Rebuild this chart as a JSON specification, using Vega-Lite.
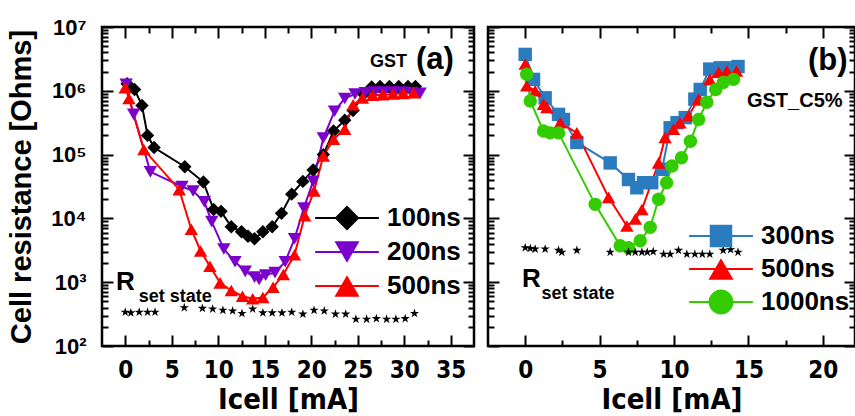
{
  "$schema": "https://vega.github.io/schema/vega-lite/v6.json",
  "background": "white",
  "padding": {"left": 6, "top": 14, "right": 0, "bottom": 0},
  "spacing": 8,
  "config": {
    "view": {"stroke": "black", "strokeWidth": 2.5, "fill": "white"},
    "font": "Liberation Sans",
    "axis": {"domain": false, "grid": false, "tickColor": "black", "tickWidth": 2, "labelColor": "black", "titleColor": "black", "labelFlush": false, "labelOverlap": false}
  },
  "datasets": {
    "a": [
      {"s": "100ns", "x": 0.2, "r": 1290000}, {"s": "100ns", "x": 1.0, "r": 1050000}, {"s": "100ns", "x": 1.8, "r": 589000}, {"s": "100ns", "x": 2.4, "r": 200000}, {"s": "100ns", "x": 3.1, "r": 129000}, {"s": "100ns", "x": 6.4, "r": 64600}, {"s": "100ns", "x": 8.4, "r": 37200}, {"s": "100ns", "x": 9.5, "r": 13800}, {"s": "100ns", "x": 10.3, "r": 12900}, {"s": "100ns", "x": 11.4, "r": 7410}, {"s": "100ns", "x": 12.5, "r": 6170}, {"s": "100ns", "x": 13.2, "r": 5250}, {"s": "100ns", "x": 13.9, "r": 4790}, {"s": "100ns", "x": 14.8, "r": 6170}, {"s": "100ns", "x": 15.8, "r": 7410}, {"s": "100ns", "x": 16.8, "r": 12000}, {"s": "100ns", "x": 17.9, "r": 24000}, {"s": "100ns", "x": 19.1, "r": 38000}, {"s": "100ns", "x": 20.2, "r": 57500}, {"s": "100ns", "x": 21.3, "r": 100000}, {"s": "100ns", "x": 22.4, "r": 234000}, {"s": "100ns", "x": 23.6, "r": 347000}, {"s": "100ns", "x": 24.5, "r": 490000}, {"s": "100ns", "x": 25.6, "r": 891000}, {"s": "100ns", "x": 26.5, "r": 1150000}, {"s": "100ns", "x": 27.4, "r": 1170000}, {"s": "100ns", "x": 28.4, "r": 1170000}, {"s": "100ns", "x": 29.4, "r": 1170000}, {"s": "100ns", "x": 30.4, "r": 1170000}, {"s": "100ns", "x": 31.2, "r": 1170000},
      {"s": "200ns", "x": 0.1, "r": 1260000}, {"s": "200ns", "x": 0.9, "r": 427000}, {"s": "200ns", "x": 2.7, "r": 53700}, {"s": "200ns", "x": 6.1, "r": 31600}, {"s": "200ns", "x": 7.3, "r": 26900}, {"s": "200ns", "x": 8.5, "r": 18200}, {"s": "200ns", "x": 9.3, "r": 8910}, {"s": "200ns", "x": 10.6, "r": 3310}, {"s": "200ns", "x": 11.8, "r": 2090}, {"s": "200ns", "x": 12.9, "r": 1480}, {"s": "200ns", "x": 13.9, "r": 1200}, {"s": "200ns", "x": 14.4, "r": 1100}, {"s": "200ns", "x": 15.1, "r": 1290}, {"s": "200ns", "x": 16.1, "r": 1410}, {"s": "200ns", "x": 17.2, "r": 2090}, {"s": "200ns", "x": 18.2, "r": 4790}, {"s": "200ns", "x": 19.2, "r": 14500}, {"s": "200ns", "x": 20.2, "r": 38000}, {"s": "200ns", "x": 21.3, "r": 182000}, {"s": "200ns", "x": 22.5, "r": 479000}, {"s": "200ns", "x": 23.6, "r": 759000}, {"s": "200ns", "x": 24.7, "r": 891000}, {"s": "200ns", "x": 25.8, "r": 933000}, {"s": "200ns", "x": 26.8, "r": 955000}, {"s": "200ns", "x": 27.8, "r": 955000}, {"s": "200ns", "x": 28.8, "r": 955000}, {"s": "200ns", "x": 29.8, "r": 955000}, {"s": "200ns", "x": 30.8, "r": 933000}, {"s": "200ns", "x": 31.7, "r": 912000},
      {"s": "500ns", "x": 0.0, "r": 1120000}, {"s": "500ns", "x": 0.4, "r": 759000}, {"s": "500ns", "x": 2.0, "r": 120000}, {"s": "500ns", "x": 5.8, "r": 28200}, {"s": "500ns", "x": 7.1, "r": 6760}, {"s": "500ns", "x": 8.1, "r": 3090}, {"s": "500ns", "x": 9.1, "r": 1780}, {"s": "500ns", "x": 10.2, "r": 977}, {"s": "500ns", "x": 11.4, "r": 741}, {"s": "500ns", "x": 12.6, "r": 603}, {"s": "500ns", "x": 13.7, "r": 550}, {"s": "500ns", "x": 14.8, "r": 575}, {"s": "500ns", "x": 15.9, "r": 832}, {"s": "500ns", "x": 17.0, "r": 1320}, {"s": "500ns", "x": 18.2, "r": 2690}, {"s": "500ns", "x": 19.3, "r": 11000}, {"s": "500ns", "x": 20.3, "r": 26900}, {"s": "500ns", "x": 21.3, "r": 95500}, {"s": "500ns", "x": 22.4, "r": 174000}, {"s": "500ns", "x": 23.6, "r": 251000}, {"s": "500ns", "x": 24.5, "r": 603000}, {"s": "500ns", "x": 25.5, "r": 776000}, {"s": "500ns", "x": 26.6, "r": 851000}, {"s": "500ns", "x": 27.7, "r": 871000}, {"s": "500ns", "x": 28.8, "r": 891000}, {"s": "500ns", "x": 29.9, "r": 912000}, {"s": "500ns", "x": 31.0, "r": 933000},
      {"s": "Rset", "x": 0.0, "r": 339}, {"s": "Rset", "x": 0.6, "r": 331}, {"s": "Rset", "x": 1.5, "r": 339}, {"s": "Rset", "x": 2.4, "r": 339}, {"s": "Rset", "x": 3.2, "r": 339}, {"s": "Rset", "x": 6.35, "r": 398}, {"s": "Rset", "x": 8.3, "r": 389}, {"s": "Rset", "x": 9.4, "r": 380}, {"s": "Rset", "x": 10.5, "r": 363}, {"s": "Rset", "x": 11.55, "r": 355}, {"s": "Rset", "x": 12.55, "r": 324}, {"s": "Rset", "x": 13.7, "r": 380}, {"s": "Rset", "x": 14.8, "r": 331}, {"s": "Rset", "x": 15.8, "r": 331}, {"s": "Rset", "x": 16.85, "r": 331}, {"s": "Rset", "x": 17.9, "r": 339}, {"s": "Rset", "x": 19.1, "r": 316}, {"s": "Rset", "x": 20.3, "r": 363}, {"s": "Rset", "x": 21.4, "r": 355}, {"s": "Rset", "x": 22.6, "r": 316}, {"s": "Rset", "x": 23.7, "r": 316}, {"s": "Rset", "x": 24.8, "r": 263}, {"s": "Rset", "x": 25.95, "r": 263}, {"s": "Rset", "x": 27.0, "r": 269}, {"s": "Rset", "x": 28.1, "r": 263}, {"s": "Rset", "x": 29.1, "r": 263}, {"s": "Rset", "x": 30.1, "r": 269}, {"s": "Rset", "x": 31.1, "r": 324}
    ],
    "b": [
      {"s": "300ns", "x": 0, "r": 3720000}, {"s": "300ns", "x": 0.56, "r": 1510000}, {"s": "300ns", "x": 1.34, "r": 776000}, {"s": "300ns", "x": 2.24, "r": 427000}, {"s": "300ns", "x": 2.57, "r": 355000}, {"s": "300ns", "x": 3.47, "r": 155000}, {"s": "300ns", "x": 5.71, "r": 74100}, {"s": "300ns", "x": 6.94, "r": 40700}, {"s": "300ns", "x": 7.5, "r": 30200}, {"s": "300ns", "x": 7.95, "r": 36300}, {"s": "300ns", "x": 8.5, "r": 36300}, {"s": "300ns", "x": 9.2, "r": 58900}, {"s": "300ns", "x": 9.74, "r": 263000}, {"s": "300ns", "x": 10.2, "r": 316000}, {"s": "300ns", "x": 10.75, "r": 380000}, {"s": "300ns", "x": 11.4, "r": 741000}, {"s": "300ns", "x": 11.76, "r": 1050000}, {"s": "300ns", "x": 12.4, "r": 2190000}, {"s": "300ns", "x": 13.1, "r": 2290000}, {"s": "300ns", "x": 13.8, "r": 2290000}, {"s": "300ns", "x": 14.3, "r": 2400000},
      {"s": "500ns", "x": 0, "r": 2630000}, {"s": "500ns", "x": 0.1, "r": 1200000}, {"s": "500ns", "x": 0.67, "r": 1000000}, {"s": "500ns", "x": 1.23, "r": 617000}, {"s": "500ns", "x": 1.46, "r": 550000}, {"s": "500ns", "x": 2.35, "r": 316000}, {"s": "500ns", "x": 3.47, "r": 219000}, {"s": "500ns", "x": 5.6, "r": 21400}, {"s": "500ns", "x": 6.83, "r": 7590}, {"s": "500ns", "x": 7.4, "r": 9770}, {"s": "500ns", "x": 7.84, "r": 13800}, {"s": "500ns", "x": 8.96, "r": 74100}, {"s": "500ns", "x": 9.4, "r": 186000}, {"s": "500ns", "x": 9.97, "r": 251000}, {"s": "500ns", "x": 10.4, "r": 316000}, {"s": "500ns", "x": 10.98, "r": 407000}, {"s": "500ns", "x": 11.65, "r": 741000}, {"s": "500ns", "x": 12.4, "r": 1510000}, {"s": "500ns", "x": 13.0, "r": 1950000}, {"s": "500ns", "x": 13.55, "r": 2040000}, {"s": "500ns", "x": 14.2, "r": 2040000},
      {"s": "1000ns", "x": 0.1, "r": 1820000}, {"s": "1000ns", "x": 0.34, "r": 692000}, {"s": "1000ns", "x": 1.23, "r": 234000}, {"s": "1000ns", "x": 1.68, "r": 219000}, {"s": "1000ns", "x": 2.24, "r": 219000}, {"s": "1000ns", "x": 4.7, "r": 16600}, {"s": "1000ns", "x": 6.38, "r": 3720}, {"s": "1000ns", "x": 6.94, "r": 3470}, {"s": "1000ns", "x": 7.73, "r": 4470}, {"s": "1000ns", "x": 8.4, "r": 7240}, {"s": "1000ns", "x": 8.96, "r": 20000}, {"s": "1000ns", "x": 9.5, "r": 36300}, {"s": "1000ns", "x": 9.86, "r": 66100}, {"s": "1000ns", "x": 10.5, "r": 89100}, {"s": "1000ns", "x": 11.1, "r": 162000}, {"s": "1000ns", "x": 11.65, "r": 355000}, {"s": "1000ns", "x": 12.2, "r": 661000}, {"s": "1000ns", "x": 12.8, "r": 1050000}, {"s": "1000ns", "x": 13.3, "r": 1350000}, {"s": "1000ns", "x": 14.0, "r": 1510000},
      {"s": "Rset", "x": 0, "r": 3470}, {"s": "Rset", "x": 0.34, "r": 3390}, {"s": "Rset", "x": 0.67, "r": 3310}, {"s": "Rset", "x": 1.34, "r": 3310}, {"s": "Rset", "x": 2.24, "r": 3160}, {"s": "Rset", "x": 2.46, "r": 2950}, {"s": "Rset", "x": 3.47, "r": 3160}, {"s": "Rset", "x": 5.71, "r": 2950}, {"s": "Rset", "x": 6.94, "r": 2950}, {"s": "Rset", "x": 7.39, "r": 2950}, {"s": "Rset", "x": 7.84, "r": 2950}, {"s": "Rset", "x": 8.2, "r": 2950}, {"s": "Rset", "x": 8.6, "r": 3020}, {"s": "Rset", "x": 9.3, "r": 2750}, {"s": "Rset", "x": 9.74, "r": 2750}, {"s": "Rset", "x": 10.3, "r": 3160}, {"s": "Rset", "x": 10.86, "r": 2750}, {"s": "Rset", "x": 11.4, "r": 2750}, {"s": "Rset", "x": 11.9, "r": 2750}, {"s": "Rset", "x": 12.4, "r": 2750}, {"s": "Rset", "x": 13.3, "r": 3160}, {"s": "Rset", "x": 13.8, "r": 3240}, {"s": "Rset", "x": 14.3, "r": 2950}
    ]
  },
  "hconcat": [
    {
      "width": 372,
      "height": 319,
      "data": {"name": "a"},
      "layer": [
        {
          "transform": [{"filter": "datum.s != 'Rset'"}],
          "mark": {"type": "line", "strokeWidth": 2},
          "encoding": {
            "x": {"field": "x", "type": "quantitative", "scale": {"domain": [-2.5, 37.5], "nice": false, "zero": false},
              "axis": {"orient": "bottom", "values": [0, 2.5, 5, 7.5, 10, 12.5, 15, 17.5, 20, 22.5, 25, 27.5, 30, 32.5, 35],
                "tickSize": {"condition": {"test": "datum.value % 5 === 0", "value": -11}, "value": -6},
                "labelExpr": "datum.value % 5 === 0 ? format(datum.value, 'd') : ''",
                "labelFont": "DejaVu Sans Condensed, sans-serif", "labelFontSize": 24, "labelFontWeight": "bold", "labelPadding": 23,
                "title": "Icell [mA]", "titleFont": "DejaVu Sans Condensed, sans-serif", "titleFontSize": 29, "titleFontWeight": "bold", "titlePadding": -2}},
            "y": {"field": "r", "type": "quantitative", "scale": {"type": "log", "domain": [100, 10000000], "nice": false},
              "axis": {"orient": "left", "values": [100, 200, 300, 400, 500, 600, 700, 800, 900, 1000, 2000, 3000, 4000, 5000, 6000, 7000, 8000, 9000, 10000, 20000, 30000, 40000, 50000, 60000, 70000, 80000, 90000, 100000, 200000, 300000, 400000, 500000, 600000, 700000, 800000, 900000, 1000000, 2000000, 3000000, 4000000, 5000000, 6000000, 7000000, 8000000, 9000000, 10000000],
                "tickSize": {"condition": {"test": "indexof([100,1000,10000,100000,1000000,10000000], datum.value) >= 0", "value": -11}, "value": -6},
                "labelExpr": "indexof([100,1000,10000,100000,1000000,10000000], datum.value) >= 0 ? '10' + ['²','³','⁴','⁵','⁶','⁷'][round(log(datum.value)/LN10) - 2] : ''",
                "labelFont": "Liberation Sans", "labelFontSize": 22, "labelFontWeight": "bold", "labelPadding": 27,
                "title": "Cell resistance [Ohms]", "titleFont": "Liberation Sans", "titleFontSize": 29, "titleFontWeight": "bold", "titlePadding": 14}},
            "color": {"field": "s", "type": "nominal", "scale": {"domain": ["100ns", "200ns", "500ns"], "range": ["#000000", "#7B00CC", "#FF0000"]}, "legend": null}
          }
        },
        {
          "transform": [{"filter": "datum.s != 'Rset'"}],
          "mark": {"type": "point", "filled": true, "opacity": 1, "size": 180, "strokeWidth": 0},
          "encoding": {
            "x": {"field": "x", "type": "quantitative", "scale": {"domain": [-2.5, 37.5], "nice": false, "zero": false}, "axis": null},
            "y": {"field": "r", "type": "quantitative", "scale": {"type": "log", "domain": [100, 10000000], "nice": false}, "axis": null},
            "color": {"field": "s", "type": "nominal", "scale": {"domain": ["100ns", "200ns", "500ns"], "range": ["#000000", "#7B00CC", "#FF0000"]}, "legend": null},
            "shape": {"field": "s", "type": "nominal", "scale": {"domain": ["100ns", "200ns", "500ns"], "range": ["diamond", "triangle-down", "triangle-up"]}, "legend": null}
          }
        },
        {
          "transform": [{"filter": "datum.s == 'Rset'"}],
          "mark": {"type": "point", "filled": true, "opacity": 1, "size": 95, "color": "black", "strokeWidth": 0, "shape": "M0,-1L0.223,-0.307L0.951,-0.309L0.361,0.117L0.588,0.809L0,0.38L-0.588,0.809L-0.361,0.117L-0.951,-0.309L-0.223,-0.307Z"},
          "encoding": {
            "x": {"field": "x", "type": "quantitative", "scale": {"domain": [-2.5, 37.5], "nice": false, "zero": false},
              "axis": {"orient": "top", "values": [0, 2.5, 5, 7.5, 10, 12.5, 15, 17.5, 20, 22.5, 25, 27.5, 30, 32.5, 35],
                "tickSize": {"condition": {"test": "datum.value % 5 === 0", "value": -11}, "value": -6}, "labels": false, "title": null}},
            "y": {"field": "r", "type": "quantitative", "scale": {"type": "log", "domain": [100, 10000000], "nice": false},
              "axis": {"orient": "right", "values": [100, 200, 300, 400, 500, 600, 700, 800, 900, 1000, 2000, 3000, 4000, 5000, 6000, 7000, 8000, 9000, 10000, 20000, 30000, 40000, 50000, 60000, 70000, 80000, 90000, 100000, 200000, 300000, 400000, 500000, 600000, 700000, 800000, 900000, 1000000, 2000000, 3000000, 4000000, 5000000, 6000000, 7000000, 8000000, 9000000, 10000000],
                "tickSize": {"condition": {"test": "indexof([100,1000,10000,100000,1000000,10000000], datum.value) >= 0", "value": -11}, "value": -6}, "labels": false, "title": null}}
          }
        },
        {
          "data": {"values": [{"t": "GST"}]},
          "mark": {"type": "text", "align": "right", "baseline": "alphabetic", "font": "Liberation Sans", "fontSize": 18, "fontWeight": "bold", "color": "black"},
          "encoding": {
            "x": {"datum": 30.3, "type": "quantitative", "scale": {"domain": [-2.5, 37.5], "nice": false, "zero": false}, "axis": null},
            "y": {"datum": 2330000, "type": "quantitative", "scale": {"type": "log", "domain": [100, 10000000], "nice": false}, "axis": null},
            "text": {"field": "t"}
          }
        },
        {
          "data": {"values": [{"t": "(a)"}]},
          "mark": {"type": "text", "align": "left", "baseline": "alphabetic", "font": "Liberation Sans", "fontSize": 31, "fontWeight": "bold", "color": "black"},
          "encoding": {
            "x": {"datum": 31.26, "type": "quantitative", "scale": {"domain": [-2.5, 37.5], "nice": false, "zero": false}, "axis": null},
            "y": {"datum": 2170000, "type": "quantitative", "scale": {"type": "log", "domain": [100, 10000000], "nice": false}, "axis": null},
            "text": {"field": "t"}
          }
        },
        {
          "data": {"values": [{"t": "R"}]},
          "mark": {"type": "text", "align": "left", "baseline": "alphabetic", "font": "Liberation Sans", "fontSize": 26, "fontWeight": "bold", "color": "black"},
          "encoding": {
            "x": {"datum": -1.0, "type": "quantitative", "scale": {"domain": [-2.5, 37.5], "nice": false, "zero": false}, "axis": null},
            "y": {"datum": 747, "type": "quantitative", "scale": {"type": "log", "domain": [100, 10000000], "nice": false}, "axis": null},
            "text": {"field": "t"}
          }
        },
        {
          "data": {"values": [{"t": "set state"}]},
          "mark": {"type": "text", "align": "left", "baseline": "alphabetic", "font": "Liberation Sans", "fontSize": 18, "fontWeight": "bold", "color": "black"},
          "encoding": {
            "x": {"datum": 1.44, "type": "quantitative", "scale": {"domain": [-2.5, 37.5], "nice": false, "zero": false}, "axis": null},
            "y": {"datum": 484, "type": "quantitative", "scale": {"type": "log", "domain": [100, 10000000], "nice": false}, "axis": null},
            "text": {"field": "t"}
          }
        },
        {
          "transform": [{"filter": "false"}],
          "mark": {"type": "point", "filled": true, "opacity": 1, "size": 625, "strokeWidth": 0},
          "encoding": {
            "color": {"field": "s", "type": "nominal", "scale": {"domain": ["100ns", "200ns", "500ns"], "range": ["#000000", "#7B00CC", "#FF0000"]},
              "legend": {"orient": "none", "legendX": 232, "legendY": 178, "title": null, "padding": 0, "labelFont": "Liberation Sans", "labelFontSize": 26, "labelFontWeight": "bold", "labelColor": "black", "labelOffset": 27, "rowPadding": 8, "symbolStrokeWidth": 0, "symbolSize": 625, "labelLimit": 300}},
            "shape": {"field": "s", "type": "nominal", "scale": {"domain": ["100ns", "200ns", "500ns"], "range": [
              "M-2.55,-0.08L2.55,-0.08L2.55,0.08L-2.55,0.08ZM0,-1L1,0L0,1L-1,0Z",
              "M-2.55,-0.08L2.55,-0.08L2.55,0.08L-2.55,0.08ZM-1,-0.866L1,-0.866L0,0.866Z",
              "M-2.55,-0.08L2.55,-0.08L2.55,0.08L-2.55,0.08ZM0,-0.866L1,0.866L-1,0.866Z"]},
              "legend": {"orient": "none", "legendX": 232, "legendY": 178, "title": null, "padding": 0, "labelFont": "Liberation Sans", "labelFontSize": 26, "labelFontWeight": "bold", "labelColor": "black", "labelOffset": 27, "rowPadding": 8, "symbolStrokeWidth": 0, "symbolSize": 625, "labelLimit": 300}}
          }
        }
      ],
      "resolve": {"scale": {"color": "independent", "shape": "independent"}, "axis": {"x": "independent", "y": "independent"}}
    },
    {
      "width": 367,
      "height": 319,
      "data": {"name": "b"},
      "layer": [
        {
          "transform": [{"filter": "datum.s != 'Rset'"}],
          "mark": {"type": "line", "strokeWidth": 2},
          "encoding": {
            "x": {"field": "x", "type": "quantitative", "scale": {"domain": [-2.5, 22.16], "nice": false, "zero": false},
              "axis": {"orient": "bottom", "values": [0, 2.5, 5, 7.5, 10, 12.5, 15, 17.5, 20],
                "tickSize": {"condition": {"test": "datum.value % 5 === 0", "value": -11}, "value": -6},
                "labelExpr": "datum.value % 5 === 0 ? format(datum.value, 'd') : ''",
                "labelFont": "DejaVu Sans Condensed, sans-serif", "labelFontSize": 24, "labelFontWeight": "bold", "labelPadding": 23,
                "title": "Icell [mA]", "titleFont": "DejaVu Sans Condensed, sans-serif", "titleFontSize": 29, "titleFontWeight": "bold", "titlePadding": -2}},
            "y": {"field": "r", "type": "quantitative", "scale": {"type": "log", "domain": [100, 10000000], "nice": false},
              "axis": {"orient": "left", "values": [100, 200, 300, 400, 500, 600, 700, 800, 900, 1000, 2000, 3000, 4000, 5000, 6000, 7000, 8000, 9000, 10000, 20000, 30000, 40000, 50000, 60000, 70000, 80000, 90000, 100000, 200000, 300000, 400000, 500000, 600000, 700000, 800000, 900000, 1000000, 2000000, 3000000, 4000000, 5000000, 6000000, 7000000, 8000000, 9000000, 10000000],
                "tickSize": {"condition": {"test": "indexof([100,1000,10000,100000,1000000,10000000], datum.value) >= 0", "value": -11}, "value": -6},
                "labels": false, "title": null}},
            "color": {"field": "s", "type": "nominal", "scale": {"domain": ["300ns", "500ns", "1000ns"], "range": ["#2B7BBF", "#FF0000", "#33CC00"]}, "legend": null}
          }
        },
        {
          "transform": [{"filter": "datum.s != 'Rset'"}],
          "mark": {"type": "point", "filled": true, "opacity": 1, "size": 180, "strokeWidth": 0},
          "encoding": {
            "x": {"field": "x", "type": "quantitative", "scale": {"domain": [-2.5, 22.16], "nice": false, "zero": false}, "axis": null},
            "y": {"field": "r", "type": "quantitative", "scale": {"type": "log", "domain": [100, 10000000], "nice": false}, "axis": null},
            "color": {"field": "s", "type": "nominal", "scale": {"domain": ["300ns", "500ns", "1000ns"], "range": ["#2B7BBF", "#FF0000", "#33CC00"]}, "legend": null},
            "shape": {"field": "s", "type": "nominal", "scale": {"domain": ["300ns", "500ns", "1000ns"], "range": ["square", "triangle-up", "circle"]}, "legend": null}
          }
        },
        {
          "transform": [{"filter": "datum.s == 'Rset'"}],
          "mark": {"type": "point", "filled": true, "opacity": 1, "size": 95, "color": "black", "strokeWidth": 0, "shape": "M0,-1L0.223,-0.307L0.951,-0.309L0.361,0.117L0.588,0.809L0,0.38L-0.588,0.809L-0.361,0.117L-0.951,-0.309L-0.223,-0.307Z"},
          "encoding": {
            "x": {"field": "x", "type": "quantitative", "scale": {"domain": [-2.5, 22.16], "nice": false, "zero": false},
              "axis": {"orient": "top", "values": [0, 2.5, 5, 7.5, 10, 12.5, 15, 17.5, 20],
                "tickSize": {"condition": {"test": "datum.value % 5 === 0", "value": -11}, "value": -6}, "labels": false, "title": null}},
            "y": {"field": "r", "type": "quantitative", "scale": {"type": "log", "domain": [100, 10000000], "nice": false},
              "axis": {"orient": "right", "values": [100, 200, 300, 400, 500, 600, 700, 800, 900, 1000, 2000, 3000, 4000, 5000, 6000, 7000, 8000, 9000, 10000, 20000, 30000, 40000, 50000, 60000, 70000, 80000, 90000, 100000, 200000, 300000, 400000, 500000, 600000, 700000, 800000, 900000, 1000000, 2000000, 3000000, 4000000, 5000000, 6000000, 7000000, 8000000, 9000000, 10000000],
                "tickSize": {"condition": {"test": "indexof([100,1000,10000,100000,1000000,10000000], datum.value) >= 0", "value": -11}, "value": -6}, "labels": false, "title": null}}
          }
        },
        {
          "data": {"values": [{"t": "(b)"}]},
          "mark": {"type": "text", "align": "left", "baseline": "alphabetic", "font": "Liberation Sans", "fontSize": 31, "fontWeight": "bold", "color": "black"},
          "encoding": {
            "x": {"datum": 19.0, "type": "quantitative", "scale": {"domain": [-2.5, 22.16], "nice": false, "zero": false}, "axis": null},
            "y": {"datum": 2090000, "type": "quantitative", "scale": {"type": "log", "domain": [100, 10000000], "nice": false}, "axis": null},
            "text": {"field": "t"}
          }
        },
        {
          "data": {"values": [{"t": "GST_C5%"}]},
          "mark": {"type": "text", "align": "left", "baseline": "alphabetic", "font": "Liberation Sans", "fontSize": 20, "fontWeight": "bold", "color": "black"},
          "encoding": {
            "x": {"datum": 14.9, "type": "quantitative", "scale": {"domain": [-2.5, 22.16], "nice": false, "zero": false}, "axis": null},
            "y": {"datum": 550000, "type": "quantitative", "scale": {"type": "log", "domain": [100, 10000000], "nice": false}, "axis": null},
            "text": {"field": "t"}
          }
        },
        {
          "data": {"values": [{"t": "R"}]},
          "mark": {"type": "text", "align": "left", "baseline": "alphabetic", "font": "Liberation Sans", "fontSize": 26, "fontWeight": "bold", "color": "black"},
          "encoding": {
            "x": {"datum": -0.22, "type": "quantitative", "scale": {"domain": [-2.5, 22.16], "nice": false, "zero": false}, "axis": null},
            "y": {"datum": 832, "type": "quantitative", "scale": {"type": "log", "domain": [100, 10000000], "nice": false}, "axis": null},
            "text": {"field": "t"}
          }
        },
        {
          "data": {"values": [{"t": "set state"}]},
          "mark": {"type": "text", "align": "left", "baseline": "alphabetic", "font": "Liberation Sans", "fontSize": 18, "fontWeight": "bold", "color": "black"},
          "encoding": {
            "x": {"datum": 1.1, "type": "quantitative", "scale": {"domain": [-2.5, 22.16], "nice": false, "zero": false}, "axis": null},
            "y": {"datum": 540, "type": "quantitative", "scale": {"type": "log", "domain": [100, 10000000], "nice": false}, "axis": null},
            "text": {"field": "t"}
          }
        },
        {
          "transform": [{"filter": "false"}],
          "mark": {"type": "point", "filled": true, "opacity": 1, "size": 625, "strokeWidth": 0},
          "encoding": {
            "color": {"field": "s", "type": "nominal", "scale": {"domain": ["300ns", "500ns", "1000ns"], "range": ["#2B7BBF", "#FF0000", "#33CC00"]},
              "legend": {"orient": "none", "legendX": 220, "legendY": 196, "title": null, "padding": 0, "labelFont": "Liberation Sans", "labelFontSize": 26, "labelFontWeight": "bold", "labelColor": "black", "labelOffset": 27, "rowPadding": 7, "symbolStrokeWidth": 0, "symbolSize": 625, "labelLimit": 300}},
            "shape": {"field": "s", "type": "nominal", "scale": {"domain": ["300ns", "500ns", "1000ns"], "range": [
              "M-2.55,-0.08L2.55,-0.08L2.55,0.08L-2.55,0.08ZM-0.9,-0.9L0.9,-0.9L0.9,0.9L-0.9,0.9Z",
              "M-2.55,-0.08L2.55,-0.08L2.55,0.08L-2.55,0.08ZM0,-0.866L1,0.866L-1,0.866Z",
              "M-2.55,-0.08L2.55,-0.08L2.55,0.08L-2.55,0.08ZM1,0L0.951,0.309L0.809,0.588L0.588,0.809L0.309,0.951L0,1L-0.309,0.951L-0.588,0.809L-0.809,0.588L-0.951,0.309L-1,0L-0.951,-0.309L-0.809,-0.588L-0.588,-0.809L-0.309,-0.951L0,-1L0.309,-0.951L0.588,-0.809L0.809,-0.588L0.951,-0.309Z"]},
              "legend": {"orient": "none", "legendX": 220, "legendY": 196, "title": null, "padding": 0, "labelFont": "Liberation Sans", "labelFontSize": 26, "labelFontWeight": "bold", "labelColor": "black", "labelOffset": 27, "rowPadding": 7, "symbolStrokeWidth": 0, "symbolSize": 625, "labelLimit": 300}}
          }
        }
      ],
      "resolve": {"scale": {"color": "independent", "shape": "independent"}, "axis": {"x": "independent", "y": "independent"}}
    }
  ]
}
